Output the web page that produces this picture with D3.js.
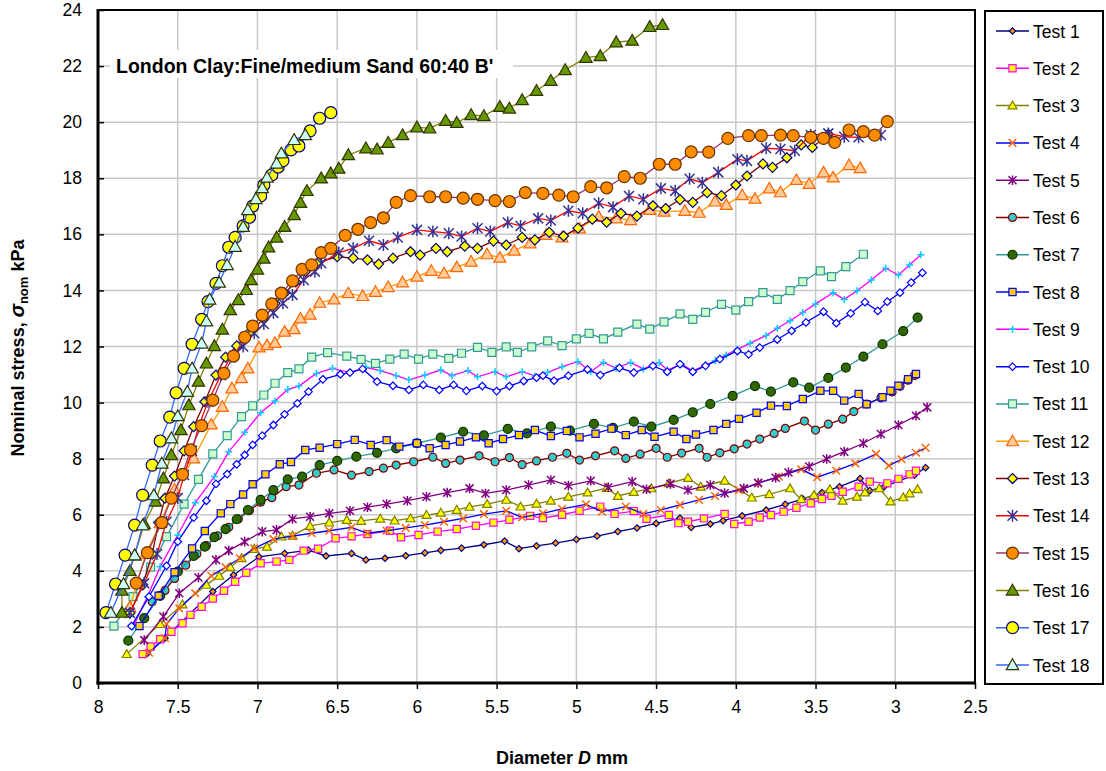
<!DOCTYPE html>
<html><head><meta charset="utf-8">
<script src="https://cdn.jsdelivr.net/npm/d3@7"></script>
<style>
html,body{margin:0;padding:0;background:#fff;}
svg{display:block;font-family:"Liberation Sans",Arial,sans-serif;}
</style></head>
<body><svg id="c" width="1106" height="771"></svg>
<script>
const seriesNames = ["Test 1","Test 2","Test 3","Test 4","Test 5","Test 6","Test 7","Test 8","Test 9","Test 10","Test 11","Test 12","Test 13","Test 14","Test 15","Test 16","Test 17","Test 18"];
const xTicks = [8,7.5,7,6.5,6,5.5,5,4.5,4,3.5,3,2.5];
const yTicks = [0,2,4,6,8,10,12,14,16,18,20,22,24];

const test1 = [[7.69,1.06],[7.58,1.6],[7.28,3.26],[7.15,3.85],[6.99,4.5],[6.83,4.62],[6.68,4.74],[6.57,4.53],[6.41,4.62],[6.32,4.39],[6.2,4.45],[6.07,4.54],[5.95,4.64],[5.85,4.73],[5.72,4.81],[5.58,4.93],[5.45,5.06],[5.36,4.79],[5.25,4.89],[5.13,4.99],[5.0,5.12],[4.87,5.24],[4.74,5.4],[4.62,5.53],[4.5,5.69],[4.35,5.88],[4.28,5.55],[4.16,5.67],[4.08,5.79],[3.96,5.96],[3.81,6.17],[3.69,6.37],[3.58,6.57],[3.46,6.79],[3.35,7.0],[3.22,7.29],[3.16,6.86],[3.07,7.0],[2.88,7.42],[2.81,7.68]];
const test2 = [[7.72,1.03],[7.67,1.3],[7.61,1.56],[7.54,1.83],[7.47,2.13],[7.42,2.43],[7.35,2.72],[7.28,3.01],[7.21,3.29],[7.14,3.61],[7.07,3.93],[6.98,4.27],[6.88,4.33],[6.8,4.39],[6.71,4.72],[6.62,4.79],[6.51,5.16],[6.41,5.23],[6.31,5.31],[6.17,5.43],[6.1,5.2],[5.99,5.28],[5.87,5.4],[5.75,5.49],[5.63,5.61],[5.52,5.72],[5.42,5.82],[5.29,5.96],[5.21,5.88],[5.09,6.0],[4.98,6.14],[4.85,6.29],[4.76,6.03],[4.64,6.13],[4.56,5.86],[4.42,5.99],[4.36,5.7],[4.3,5.75],[4.2,5.87],[4.07,6.03],[4.01,5.67],[3.92,5.75],[3.85,5.9],[3.78,5.99],[3.7,6.11],[3.62,6.25],[3.53,6.41],[3.46,6.56],[3.4,6.68],[3.33,6.82],[3.23,7.0],[3.16,7.18],[3.05,7.12],[2.98,7.28],[2.91,7.44],[2.87,7.57]];
const test3 = [[7.82,1.03],[7.61,2.1],[7.47,2.8],[7.32,3.5],[7.24,3.82],[7.17,4.13],[7.1,4.45],[7.02,4.78],[6.94,4.86],[6.85,5.22],[6.78,5.25],[6.67,5.6],[6.55,5.72],[6.44,5.81],[6.35,5.78],[6.23,5.86],[6.14,5.79],[6.04,5.87],[5.94,5.99],[5.85,6.07],[5.75,6.17],[5.67,6.28],[5.56,6.38],[5.44,6.53],[5.35,6.29],[5.25,6.39],[5.16,6.5],[5.05,6.64],[4.93,6.79],[4.81,6.95],[4.74,6.67],[4.64,6.81],[4.53,6.94],[4.42,7.12],[4.3,7.31],[4.22,7.0],[4.07,7.21],[3.9,6.61],[3.79,6.73],[3.66,6.94],[3.59,6.55],[3.51,6.7],[3.41,6.91],[3.33,6.5],[3.24,6.64],[3.19,6.79],[3.1,6.94],[3.03,6.47],[2.95,6.62],[2.91,6.76],[2.86,6.91]];
const test4 = [[7.68,1.08],[7.58,1.6],[7.57,2.1],[7.49,2.66],[7.39,3.2],[7.29,3.82],[7.2,4.13],[7.11,4.45],[7.02,4.8],[6.9,5.13],[6.78,5.24],[6.66,5.34],[6.55,5.43],[6.41,5.55],[6.31,5.34],[6.19,5.43],[6.07,5.53],[5.95,5.63],[5.83,5.75],[5.71,5.87],[5.58,6.02],[5.44,6.14],[5.34,5.91],[5.21,6.05],[5.09,6.21],[4.94,6.37],[4.84,6.11],[4.69,6.29],[4.58,6.03],[4.47,6.17],[4.35,6.35],[4.23,6.53],[4.13,6.67],[3.98,6.88],[3.86,7.12],[3.73,7.36],[3.59,7.62],[3.49,7.34],[3.37,7.57],[3.25,7.83],[3.12,8.17],[3.04,7.75],[2.96,7.98],[2.87,8.21],[2.81,8.39]];
const test5 = [[7.71,1.53],[7.59,2.37],[7.49,3.2],[7.37,3.76],[7.26,4.39],[7.18,4.72],[7.08,5.04],[6.97,5.4],[6.88,5.46],[6.78,5.85],[6.67,5.93],[6.55,6.05],[6.42,6.14],[6.31,6.27],[6.19,6.38],[6.06,6.5],[5.94,6.64],[5.81,6.79],[5.67,6.94],[5.57,6.76],[5.44,6.88],[5.3,7.06],[5.16,7.24],[5.05,7.04],[4.91,7.21],[4.8,6.98],[4.65,7.18],[4.56,6.91],[4.41,7.1],[4.3,6.88],[4.16,7.06],[4.07,6.77],[3.95,6.94],[3.86,7.14],[3.75,7.32],[3.67,7.51],[3.54,7.72],[3.43,7.99],[3.32,8.25],[3.2,8.55],[3.09,8.88],[2.98,9.2],[2.87,9.53],[2.8,9.83]];
const test6 = [[7.66,2.9],[7.58,3.3],[7.52,3.73],[7.45,4.2],[7.38,4.6],[7.32,4.9],[7.25,5.25],[7.18,5.55],[7.12,5.85],[7.05,6.15],[6.98,6.45],[6.91,6.61],[6.82,7.0],[6.74,7.06],[6.63,7.48],[6.52,7.6],[6.41,7.41],[6.3,7.54],[6.21,7.66],[6.13,7.77],[6.02,7.89],[5.9,8.05],[5.82,7.83],[5.73,7.95],[5.61,8.1],[5.51,7.89],[5.42,8.04],[5.34,7.79],[5.25,7.92],[5.15,8.05],[5.06,8.19],[4.98,7.95],[4.88,8.1],[4.76,8.28],[4.69,8.01],[4.6,8.16],[4.5,8.37],[4.43,8.05],[4.34,8.2],[4.23,8.37],[4.18,8.05],[4.1,8.21],[4.01,8.35],[3.93,8.52],[3.85,8.7],[3.76,8.9],[3.69,9.08],[3.57,9.34],[3.5,9.02],[3.42,9.23],[3.33,9.41],[3.26,9.68],[3.18,9.95],[3.09,10.17],[3.02,10.38],[2.97,10.58],[2.92,10.8],[2.88,10.97]];
const test7 = [[7.81,1.51],[7.71,2.31],[7.61,3.11],[7.5,3.97],[7.4,4.53],[7.33,4.86],[7.27,5.2],[7.2,5.49],[7.13,5.84],[7.06,6.17],[6.98,6.53],[6.9,6.88],[6.81,7.26],[6.72,7.36],[6.61,7.77],[6.5,7.92],[6.38,8.07],[6.25,8.21],[6.13,8.37],[6.0,8.55],[5.85,8.75],[5.71,8.96],[5.58,8.83],[5.43,9.06],[5.31,8.9],[5.16,9.14],[5.04,9.0],[4.89,9.24],[4.77,9.1],[4.64,9.32],[4.53,9.14],[4.39,9.38],[4.27,9.65],[4.16,9.95],[4.02,10.24],[3.88,10.59],[3.78,10.39],[3.64,10.72],[3.54,10.53],[3.42,10.88],[3.31,11.25],[3.2,11.64],[3.08,12.08],[2.95,12.55],[2.86,13.03]];
const test8 = [[7.74,2.03],[7.62,3.11],[7.52,3.95],[7.41,4.8],[7.33,5.42],[7.23,6.05],[7.17,6.38],[7.09,6.72],[7.03,7.09],[6.95,7.44],[6.86,7.8],[6.79,7.88],[6.7,8.31],[6.61,8.39],[6.5,8.52],[6.39,8.67],[6.29,8.49],[6.19,8.66],[6.11,8.43],[6.0,8.55],[5.92,8.37],[5.82,8.49],[5.73,8.61],[5.63,8.76],[5.55,8.55],[5.46,8.7],[5.36,8.84],[5.26,9.02],[5.16,8.81],[5.06,8.99],[4.98,8.76],[4.88,8.89],[4.78,9.07],[4.69,8.84],[4.59,9.02],[4.51,8.78],[4.39,8.96],[4.31,8.7],[4.25,8.86],[4.14,9.02],[4.06,9.24],[3.98,9.42],[3.87,9.64],[3.78,9.89],[3.68,9.88],[3.58,10.13],[3.47,10.42],[3.39,10.42],[3.32,10.07],[3.23,10.31],[3.18,9.94],[3.08,10.19],[3.03,10.42],[2.98,10.6],[2.92,10.83],[2.87,11.02]];
const test9 = [[7.78,2.0],[7.69,3.08],[7.61,4.15],[7.5,5.28],[7.39,6.43],[7.27,7.36],[7.18,8.25],[7.08,8.94],[6.98,9.64],[6.89,10.06],[6.81,10.47],[6.74,10.59],[6.63,11.04],[6.53,11.22],[6.42,11.07],[6.32,11.26],[6.23,11.14],[6.13,10.96],[6.05,10.81],[5.95,10.98],[5.85,11.16],[5.78,10.96],[5.68,11.14],[5.62,10.92],[5.51,11.1],[5.44,10.92],[5.34,11.1],[5.26,10.95],[5.18,11.08],[5.09,11.28],[4.99,11.46],[4.91,11.1],[4.83,11.43],[4.75,11.22],[4.66,11.43],[4.58,11.2],[4.48,11.43],[4.43,11.16],[4.34,11.37],[4.27,11.13],[4.19,11.34],[4.13,11.49],[4.06,11.7],[3.99,11.9],[3.91,12.12],[3.81,12.39],[3.74,12.65],[3.66,12.92],[3.58,13.21],[3.5,13.52],[3.39,13.92],[3.32,13.68],[3.24,13.99],[3.15,14.37],[3.06,14.79],[2.98,14.55],[2.91,14.91],[2.84,15.27]];
const test10 = [[7.79,2.03],[7.68,3.08],[7.57,4.18],[7.5,5.04],[7.4,5.9],[7.32,6.5],[7.26,7.1],[7.19,7.45],[7.13,7.8],[7.08,8.13],[7.03,8.49],[6.97,8.82],[6.9,9.2],[6.83,9.58],[6.75,9.97],[6.68,10.39],[6.59,10.83],[6.48,11.01],[6.42,11.07],[6.34,11.2],[6.25,10.75],[6.15,10.6],[6.05,10.45],[5.96,10.63],[5.86,10.45],[5.77,10.63],[5.69,10.42],[5.59,10.59],[5.5,10.41],[5.42,10.59],[5.33,10.77],[5.25,10.89],[5.21,10.96],[5.14,10.78],[5.05,10.96],[4.93,11.18],[4.85,10.98],[4.73,11.24],[4.64,11.07],[4.52,11.31],[4.43,11.1],[4.35,11.37],[4.27,11.1],[4.19,11.31],[4.1,11.55],[3.99,11.84],[3.92,11.72],[3.85,11.96],[3.74,12.25],[3.65,12.56],[3.56,12.86],[3.45,13.24],[3.37,12.83],[3.28,13.18],[3.19,13.58],[3.11,13.27],[3.05,13.6],[2.97,13.92],[2.9,14.28],[2.83,14.63]];
const test11 = [[7.9,2.03],[7.78,3.08],[7.67,4.13],[7.57,5.22],[7.46,6.38],[7.37,7.26],[7.28,8.17],[7.19,8.82],[7.1,9.5],[7.03,9.88],[6.96,10.27],[6.89,10.69],[6.81,11.07],[6.74,11.2],[6.66,11.62],[6.56,11.78],[6.44,11.66],[6.35,11.54],[6.26,11.4],[6.17,11.55],[6.08,11.73],[5.99,11.55],[5.9,11.73],[5.8,11.58],[5.72,11.76],[5.62,11.97],[5.53,11.79],[5.44,11.99],[5.37,11.79],[5.28,11.99],[5.18,12.2],[5.09,12.03],[5.0,12.27],[4.92,12.47],[4.83,12.27],[4.74,12.51],[4.62,12.8],[4.54,12.62],[4.45,12.88],[4.35,13.16],[4.27,12.97],[4.19,13.22],[4.09,13.5],[4.0,13.3],[3.92,13.6],[3.83,13.92],[3.74,13.68],[3.66,13.99],[3.58,14.31],[3.47,14.7],[3.4,14.49],[3.31,14.85],[3.2,15.29]];
const test12 = [[7.8,2.7],[7.7,4.6],[7.61,5.7],[7.52,6.9],[7.4,8.01],[7.29,9.22],[7.22,9.85],[7.16,10.51],[7.1,10.87],[7.06,11.22],[6.99,11.97],[6.94,12.05],[6.89,12.13],[6.83,12.53],[6.77,12.62],[6.73,13.0],[6.67,13.14],[6.61,13.56],[6.52,13.68],[6.43,13.9],[6.34,13.8],[6.26,13.95],[6.18,14.12],[6.09,14.29],[6.0,14.49],[5.91,14.7],[5.83,14.61],[5.75,14.83],[5.66,15.03],[5.56,15.29],[5.48,15.17],[5.39,15.42],[5.29,15.68],[5.19,15.98],[5.09,15.89],[4.98,16.21],[4.86,16.63],[4.75,16.57],[4.66,16.51],[4.54,16.87],[4.45,16.81],[4.32,16.84],[4.23,16.77],[4.13,17.17],[4.06,17.05],[3.96,17.4],[3.88,17.27],[3.79,17.64],[3.72,17.5],[3.62,17.94],[3.54,17.8],[3.45,18.21],[3.39,18.03],[3.29,18.47],[3.22,18.36]];
const test13 = [[7.8,2.5],[7.72,3.5],[7.66,4.6],[7.62,5.72],[7.58,6.59],[7.52,7.38],[7.46,8.28],[7.4,9.14],[7.33,10.03],[7.26,10.98],[7.2,11.62],[7.13,12.02],[7.05,12.5],[6.96,13.0],[6.89,13.54],[6.83,13.9],[6.76,14.3],[6.7,14.67],[6.62,15.0],[6.5,15.2],[6.4,15.15],[6.31,15.09],[6.24,14.94],[6.15,15.15],[6.04,15.38],[5.98,15.26],[5.88,15.5],[5.81,15.38],[5.7,15.58],[5.62,15.5],[5.52,15.76],[5.44,15.62],[5.34,15.89],[5.26,15.8],[5.17,16.07],[5.08,15.94],[4.99,16.22],[4.9,16.54],[4.81,16.43],[4.72,16.75],[4.62,16.65],[4.52,17.02],[4.44,16.92],[4.35,17.24],[4.27,17.14],[4.18,17.49],[4.09,17.38],[4.0,17.76],[3.93,18.08],[3.83,18.51],[3.77,18.39],[3.68,18.73],[3.59,19.19],[3.52,19.1],[3.42,19.57]];
const test14 = [[7.8,2.5],[7.71,3.56],[7.63,4.6],[7.57,5.75],[7.5,6.6],[7.46,7.42],[7.41,8.28],[7.37,9.14],[7.31,10.03],[7.23,10.98],[7.17,11.62],[7.09,12.0],[7.02,12.47],[6.96,12.8],[6.9,13.2],[6.84,13.54],[6.78,13.84],[6.71,14.37],[6.64,14.67],[6.6,14.97],[6.49,15.35],[6.4,15.5],[6.3,15.77],[6.21,15.62],[6.12,15.89],[6.0,16.16],[5.9,16.1],[5.8,16.04],[5.72,15.92],[5.62,16.22],[5.54,16.1],[5.43,16.42],[5.35,16.3],[5.24,16.57],[5.16,16.49],[5.05,16.84],[4.96,16.75],[4.86,17.11],[4.77,16.97],[4.67,17.37],[4.58,17.25],[4.47,17.64],[4.38,17.55],[4.29,17.98],[4.21,17.84],[4.11,18.21],[3.99,18.68],[3.93,18.62],[3.81,19.07],[3.72,19.04],[3.63,18.98],[3.53,19.54],[3.42,19.6],[3.32,19.48],[3.23,19.46],[3.09,19.54]];
const test15 = [[7.76,3.56],[7.69,4.65],[7.6,5.72],[7.54,6.59],[7.47,7.44],[7.42,8.31],[7.35,9.18],[7.28,10.09],[7.21,11.04],[7.15,11.66],[7.08,12.33],[7.03,12.73],[6.97,13.12],[6.91,13.52],[6.85,13.9],[6.78,14.34],[6.72,14.75],[6.66,14.91],[6.6,15.35],[6.54,15.5],[6.45,15.96],[6.37,16.18],[6.29,16.42],[6.21,16.59],[6.13,17.14],[6.04,17.38],[5.92,17.34],[5.82,17.34],[5.71,17.29],[5.62,17.25],[5.51,17.2],[5.42,17.17],[5.32,17.49],[5.21,17.46],[5.11,17.4],[5.02,17.34],[4.91,17.7],[4.81,17.66],[4.7,18.06],[4.6,18.0],[4.48,18.5],[4.38,18.5],[4.28,18.94],[4.17,18.93],[4.05,19.42],[3.92,19.52],[3.84,19.52],[3.72,19.54],[3.64,19.52],[3.53,19.46],[3.45,19.42],[3.38,19.28],[3.29,19.72],[3.2,19.66],[3.13,19.54],[3.05,20.02]];
const test16 = [[7.85,2.51],[7.85,3.3],[7.8,4.0],[7.77,4.56],[7.71,5.67],[7.64,6.47],[7.59,7.3],[7.54,8.13],[7.48,9.02],[7.43,9.91],[7.37,10.75],[7.32,11.4],[7.27,12.02],[7.22,12.61],[7.17,13.3],[7.12,13.66],[7.07,14.02],[7.04,14.37],[7.0,14.75],[6.96,15.14],[6.93,15.54],[6.88,15.89],[6.83,16.27],[6.77,16.69],[6.73,17.13],[6.69,17.55],[6.6,18.0],[6.54,18.18],[6.49,18.35],[6.43,18.83],[6.32,19.07],[6.25,19.03],[6.18,19.27],[6.09,19.54],[6.0,19.82],[5.92,19.78],[5.82,20.05],[5.75,19.98],[5.66,20.26],[5.58,20.22],[5.48,20.55],[5.42,20.49],[5.34,20.79],[5.25,21.12],[5.16,21.48],[5.07,21.86],[4.94,22.3],[4.85,22.36],[4.75,22.85],[4.65,22.91],[4.54,23.4],[4.46,23.47]];
const test17 = [[7.95,2.51],[7.89,3.53],[7.83,4.56],[7.77,5.63],[7.72,6.7],[7.66,7.77],[7.61,8.63],[7.55,9.48],[7.51,10.35],[7.46,11.22],[7.41,12.08],[7.35,12.97],[7.31,13.6],[7.26,14.25],[7.22,14.88],[7.18,15.54],[7.14,15.89],[7.09,16.3],[7.05,16.61],[7.03,17.01],[6.98,17.37],[6.96,17.76],[6.91,18.12],[6.87,18.4],[6.84,18.63],[6.79,19.01],[6.74,19.15],[6.67,19.69],[6.61,20.14],[6.54,20.34]];
const test18 = [[7.92,2.51],[7.84,3.53],[7.77,4.56],[7.72,5.63],[7.65,6.7],[7.6,7.83],[7.54,8.73],[7.5,9.52],[7.44,10.39],[7.41,11.22],[7.35,12.11],[7.32,12.9],[7.3,13.68],[7.24,14.28],[7.19,14.91],[7.14,15.56],[7.09,16.27],[7.06,16.87],[7.01,17.26],[6.97,17.65],[6.94,18.03],[6.88,18.53],[6.85,18.89],[6.77,19.37],[6.7,19.54]];

const allData = [test1,test2,test3,test4,test5,test6,test7,test8,test9,test10,test11,test12,test13,test14,test15,test16,test17,test18];

// styles: line colour, marker shape, marker size, fill, stroke
const styles = [
 {line:"#000080", shape:"diamond", s:3.2, fill:"#FF9900", stroke:"#000080"},
 {line:"#FF00FF", shape:"square", s:3.6, fill:"#FFFF00", stroke:"#FF00FF"},
 {line:"#808000", shape:"triangle", s:4.5, fill:"#FFFF00", stroke:"#808000"},
 {line:"#0000FF", shape:"x", s:3.8, fill:"none", stroke:"#FF6600"},
 {line:"#800080", shape:"asterisk", s:4, fill:"none", stroke:"#800080"},
 {line:"#800000", shape:"circle", s:4, fill:"#33CCCC", stroke:"#800000"},
 {line:"#339999", shape:"circle", s:4.5, fill:"#336600", stroke:"#003300"},
 {line:"#0000FF", shape:"square", s:3.6, fill:"#FFCC00", stroke:"#0000FF"},
 {line:"#FF00FF", shape:"plus", s:3.5, fill:"none", stroke:"#00CCFF"},
 {line:"#0000FF", shape:"diamond", s:3.8, fill:"#FFFFFF", stroke:"#0000FF"},
 {line:"#339999", shape:"square", s:4, fill:"#CCFFCC", stroke:"#339999"},
 {line:"#FF9900", shape:"triangle", s:6, fill:"#FFCC99", stroke:"#FF6600"},
 {line:"#800000", shape:"diamond", s:5, fill:"#FFFF00", stroke:"#000080"},
 {line:"#FF0000", shape:"asterisk", s:5, fill:"none", stroke:"#333399"},
 {line:"#993366", shape:"circle", s:6, fill:"#FF8C00", stroke:"#663300"},
 {line:"#808000", shape:"triangle", s:6.2, fill:"#669900", stroke:"#333300"},
 {line:"#3366FF", shape:"circle", s:6, fill:"#FFFF00", stroke:"#000080"},
 {line:"#3366FF", shape:"triangle", s:6.2, fill:"#CCFFFF", stroke:"#333300"}
];

function markerPath(shape, s){
  switch(shape){
    case "diamond": return `M0,${-s}L${s},0L0,${s}L${-s},0Z`;
    case "square": return `M${-s},${-s}H${s}V${s}H${-s}Z`;
    case "triangle": return `M0,${-s}L${s},${s*0.75}L${-s},${s*0.75}Z`;
    case "x": return `M${-s},${-s}L${s},${s}M${-s},${s}L${s},${-s}`;
    case "asterisk": return `M${-s},${-s}L${s},${s}M${-s},${s}L${s},${-s}M0,${-s*1.2}V${s*1.2}`;
    case "plus": return `M${-s},0H${s}M0,${-s}V${s}`;
    case "circle": return d3.symbol(d3.symbolCircle, Math.PI*s*s)();
  }
}

const svg = d3.select("#c");
const L=98, R=975, T=10, B=683;
const x = d3.scaleLinear().domain([8,2.5]).range([L,R]);
const y = d3.scaleLinear().domain([0,24]).range([B,T]);

svg.append("rect").attr("width",1106).attr("height",771).attr("fill","#fff");

// gridlines
const grid = svg.append("g").attr("stroke","#C8C8C8").attr("stroke-width",1.5);
xTicks.forEach(v=>{ if(v!==8 && v!==2.5) grid.append("line").attr("x1",x(v)).attr("x2",x(v)).attr("y1",T).attr("y2",B); });
yTicks.forEach(v=>{ if(v!==0 && v!==24) grid.append("line").attr("x1",L).attr("x2",R).attr("y1",y(v)).attr("y2",y(v)); });

// title box
svg.append("rect").attr("x",110).attr("y",50).attr("width",403).attr("height",28).attr("fill","#fff");
svg.append("text").attr("x",116).attr("y",73).attr("font-size",19.5).attr("font-weight","bold").attr("fill","#000")
  .text("London Clay:Fine/medium Sand 60:40 B'");

// series
const line = d3.line().x(d=>x(d[0])).y(d=>y(d[1]));
allData.forEach((data,i)=>{
  const st = styles[i];
  const g = svg.append("g");
  g.append("path").attr("d",line(data)).attr("fill","none").attr("stroke",st.line).attr("stroke-width",1.3);
  const p = markerPath(st.shape, st.s);
  g.selectAll("path.m").data(data).join("path").attr("class","m")
    .attr("transform",d=>`translate(${x(d[0])},${y(d[1])})`)
    .attr("d",p).attr("fill",st.fill).attr("stroke",st.stroke)
    .attr("stroke-width", (st.shape==="x"||st.shape==="asterisk"||st.shape==="plus")?1.5:1.2);
});

// axes frame
svg.append("rect").attr("x",L).attr("y",T).attr("width",R-L).attr("height",B-T)
  .attr("fill","none").attr("stroke","#000").attr("stroke-width",2);
svg.append("line").attr("x1",L).attr("x2",L).attr("y1",T-1).attr("y2",B+1.5).attr("stroke","#000").attr("stroke-width",3);
svg.append("line").attr("x1",L-1.5).attr("x2",R+1).attr("y1",B).attr("y2",B).attr("stroke","#000").attr("stroke-width",3);

// y axis ticks (inside) and labels
const yAxis = d3.axisLeft(y).tickValues(yTicks).tickSize(-6).tickPadding(16).tickFormat(d3.format("d"));
const ya = svg.append("g").attr("transform",`translate(${L},0)`).call(yAxis);
ya.select(".domain").remove();
ya.selectAll("line").attr("stroke","#000").attr("stroke-width",1.5);
ya.selectAll("text").attr("font-size",17.5).attr("font-family","Liberation Sans, Arial, sans-serif").attr("fill","#000");

// x axis ticks (outside) and labels
const xAxis = d3.axisBottom(x).tickValues(xTicks).tickSize(6).tickPadding(12).tickFormat(d=>String(d));
const xa = svg.append("g").attr("transform",`translate(0,${B})`).call(xAxis);
xa.select(".domain").remove();
xa.selectAll("line").attr("stroke","#000").attr("stroke-width",1.5);
xa.selectAll("text").attr("font-size",17.5).attr("font-family","Liberation Sans, Arial, sans-serif").attr("fill","#000");

// axis titles
const xt = svg.append("text").attr("x",562).attr("y",764).attr("text-anchor","middle").attr("font-size",18).attr("font-weight","bold");
xt.append("tspan").text("Diameter ");
xt.append("tspan").attr("font-style","italic").text("D");
xt.append("tspan").text(" mm");

const yt = svg.append("text").attr("transform","translate(24,348) rotate(-90)").attr("text-anchor","middle").attr("font-size",18).attr("font-weight","bold");
yt.append("tspan").text("Nominal stress, ");
yt.append("tspan").attr("font-style","italic").attr("font-size",20).text("σ");
yt.append("tspan").attr("font-size",13).attr("dy",4).text("nom");
yt.append("tspan").attr("dy",-4).text(" kPa");

// legend
const lg = svg.append("g");
lg.append("rect").attr("x",985).attr("y",11).attr("width",118).attr("height",673).attr("fill","#fff").attr("stroke","#000").attr("stroke-width",2);
const ly = d3.scalePoint().domain(seriesNames).range([31,665]);
seriesNames.forEach((n,i)=>{
  const st = styles[i], yy = ly(n);
  lg.append("line").attr("x1",996).attr("x2",1029).attr("y1",yy).attr("y2",yy).attr("stroke",st.line).attr("stroke-width",1.5);
  lg.append("path").attr("transform",`translate(1012.5,${yy})`).attr("d",markerPath(st.shape,st.s))
    .attr("fill",st.fill).attr("stroke",st.stroke).attr("stroke-width",(st.shape==="x"||st.shape==="asterisk"||st.shape==="plus")?1.5:1.2);
  lg.append("text").attr("x",1033).attr("y",yy+6.5).attr("font-size",17.5).attr("fill","#000").text(n);
});
</script></body></html>
